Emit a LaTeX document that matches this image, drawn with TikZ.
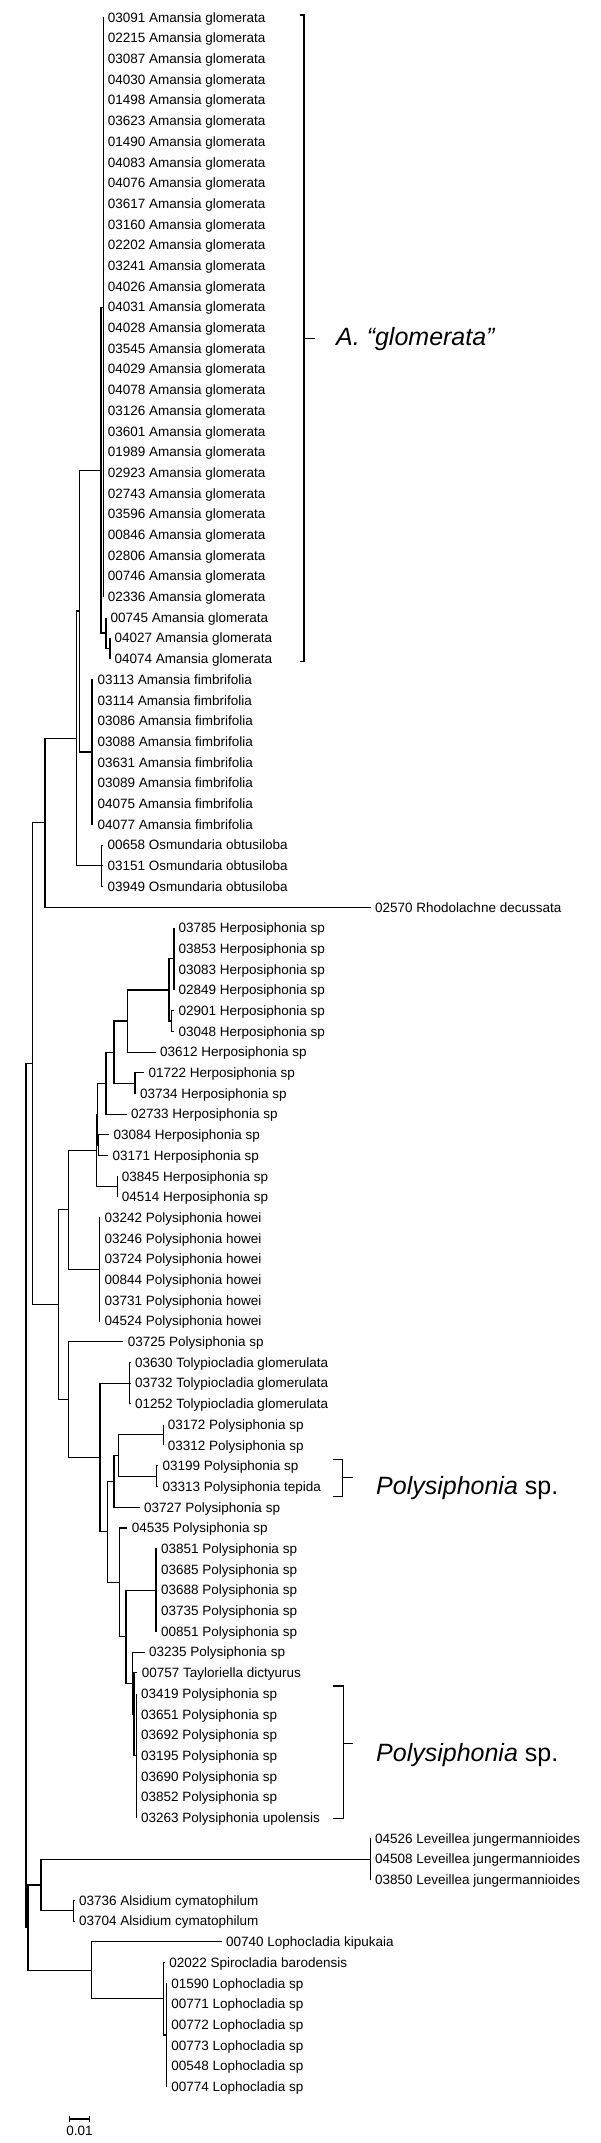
\documentclass[tikz,border=0pt]{standalone}
\usepackage{fontspec}
\setmainfont{Liberation Sans}
\usetikzlibrary{calc}
\newcommand\leaf[4]{%
  \pgfmathsetmacro\leafy{17.4+(#2-1)*20.693}%
  \coordinate (#1) at (#3,\leafy);%
  \node[lab] (#1l) at ({#3+4.3},{\leafy+4.8}) {#4};}
\newcommand\inode[5]{%
  \path let \p1=(#3), \p2=(#4) in coordinate (#1) at ({#2pt},{0.5*\y1+0.5*\y2});%
  \foreach \c in {#5} {\draw[br] (#1) |- (\c);}}
\newcommand\pnode[4]{%
  \path let \p1=(L#3), \p2=(L#4) in coordinate (#1) at ({#2pt},{0.5*\y1+0.5*\y2});%
  \foreach \i in {#3,...,#4} {\draw[br] (#1) |- (L\i);}}
\begin{document}
\begin{tikzpicture}[x=1pt,y=-1pt,
  br/.style={line width=1.1pt, black},
  brk/.style={line width=1.3pt, black},
  lab/.style={anchor=base west, inner sep=0pt, font=\fontsize{13.5}{16}\selectfont},
  big/.style={anchor=base west, inner sep=0pt, font=\fontsize{25}{30}\selectfont}]
\useasboundingbox (0,0) rectangle (600,2143);
\fill[white] (0,0) rectangle (600,2143);
% leaves
\foreach \i/\nm in {1/03091,2/02215,3/03087,4/04030,5/01498,6/03623,7/01490,8/04083,9/04076,10/03617,11/03160,12/02202,13/03241,14/04026,15/04031,16/04028,17/03545,18/04029,19/04078,20/03126,21/03601,22/01989,23/02923,24/02743,25/03596,26/00846,27/02806,28/00746,29/02336}
  {\leaf{L\i}{\i}{103.4}{\nm\ Amansia glomerata}}
\leaf{L30}{30}{106}{00745 Amansia glomerata}
\leaf{L31}{31}{110}{04027 Amansia glomerata}
\leaf{L32}{32}{110}{04074 Amansia glomerata}
\foreach \i/\nm in {33/03113,34/03114,35/03086,36/03088,37/03631,38/03089,39/04075,40/04077}
  {\leaf{L\i}{\i}{93}{\nm\ Amansia fimbrifolia}}
\foreach \i/\nm in {41/00658,42/03151,43/03949}
  {\leaf{L\i}{\i}{103}{\nm\ Osmundaria obtusiloba}}
\leaf{L44}{44}{370.7}{02570 Rhodolachne decussata}
\foreach \i/\nm in {45/03785,46/03853,47/03083,48/02849,49/02901,50/03048}
  {\leaf{L\i}{\i}{174}{\nm\ Herposiphonia sp}}
\leaf{L51}{51}{155.7}{03612 Herposiphonia sp}
\leaf{L52}{52}{144}{01722 Herposiphonia sp}
\leaf{L53}{53}{135.7}{03734 Herposiphonia sp}
\leaf{L54}{54}{126.7}{02733 Herposiphonia sp}
\leaf{L55}{55}{109}{03084 Herposiphonia sp}
\leaf{L56}{56}{108}{03171 Herposiphonia sp}
\leaf{L57}{57}{117.4}{03845 Herposiphonia sp}
\leaf{L58}{58}{117.4}{04514 Herposiphonia sp}
\foreach \i/\nm in {59/03242,60/03246,61/03724,62/00844,63/03731,64/04524}
  {\leaf{L\i}{\i}{100}{\nm\ Polysiphonia howei}}
\leaf{L65}{65}{123.4}{03725 Polysiphonia sp}
\foreach \i/\nm in {66/03630,67/03732,68/01252}
  {\leaf{L\i}{\i}{130.7}{\nm\ Tolypiocladia glomerulata}}
\leaf{L69}{69}{163.3}{03172 Polysiphonia sp}
\leaf{L70}{70}{163.3}{03312 Polysiphonia sp}
\leaf{L71}{71}{158}{03199 Polysiphonia sp}
\leaf{L72}{72}{158}{03313 Polysiphonia tepida}
\leaf{L73}{73}{139.7}{03727 Polysiphonia sp}
\leaf{L74}{74}{127.4}{04535 Polysiphonia sp}
\foreach \i/\nm in {75/03851,76/03685,77/03688,78/03735,79/00851}
  {\leaf{L\i}{\i}{156.7}{\nm\ Polysiphonia sp}}
\leaf{L80}{80}{144.7}{03235 Polysiphonia sp}
\leaf{L81}{81}{137.4}{00757 Tayloriella dictyurus}
\foreach \i/\nm in {82/03419,83/03651,84/03692,85/03195,86/03690,87/03852}
  {\leaf{L\i}{\i}{136.7}{\nm\ Polysiphonia sp}}
\leaf{L88}{88}{136.7}{03263 Polysiphonia upolensis}
\foreach \i/\nm in {89/04526,90/04508,91/03850}
  {\leaf{L\i}{\i}{370.7}{\nm\ Leveillea jungermannioides}}
\leaf{L92}{92}{74.7}{03736 Alsidium cymatophilum}
\leaf{L93}{93}{74.7}{03704 Alsidium cymatophilum}
\leaf{L94}{94}{221.7}{00740 Lophocladia kipukaia}
\leaf{L95}{95}{164.9}{02022 Spirocladia barodensis}
\foreach \i/\nm in {96/01590,97/00771,98/00772,99/00773,100/00548,101/00774}
  {\leaf{L\i}{\i}{166.9}{\nm\ Lophocladia sp}}
% internal nodes
\inode{AGc}{110}{L31}{L32}{L31,L32}
\inode{AGb}{106}{L30}{AGc}{L30,AGc}
\pnode{AGp}{103.4}{1}{29}
\inode{AGr}{101}{AGp}{AGb}{AGp,AGb}
\pnode{AF}{92}{33}{40}
\inode{N79}{79.3}{AGr}{AF}{AGr,AF}
\pnode{OO}{101.7}{41}{43}
\inode{N76}{76.5}{N79}{OO}{N79,OO}
\inode{N45}{45}{N76}{L44}{N76,L44}
\pnode{H174}{174}{45}{48}
\pnode{H171}{171.7}{49}{50}
\inode{H169}{169}{H174}{H171}{H174,H171}
\inode{H127}{127.7}{H169}{L51}{H169,L51}
\inode{H135}{135}{L52}{L53}{L52,L53}
\inode{H114}{114}{H127}{H135}{H127,H135}
\inode{H106}{106}{H114}{L54}{H114,L54}
\inode{HW}{98.8}{L55}{L56}{L55,L56}
\inode{HY}{97.5}{H106}{HW}{H106,HW}
\inode{H117}{117.3}{L57}{L58}{L57,L58}
\inode{HZ}{96.5}{HY}{H117}{HY,H117}
\pnode{PH}{99.3}{59}{64}
\inode{N68a}{68.3}{HZ}{PH}{HZ,PH}
\pnode{Tol}{129.3}{66}{68}
\inode{P163}{163.3}{L69}{L70}{L69,L70}
\inode{P157}{156.7}{L71}{L72}{L71,L72}
\inode{N118}{118.3}{P163}{P157}{P163,P157}
\inode{N114}{114}{N118}{L73}{N118,L73}
\pnode{C5}{156}{75}{79}
\pnode{N136}{136.7}{82}{88}
\inode{N134}{134}{L81}{N136}{L81,N136}
\inode{N132}{132.7}{L80}{N134}{L80,N134}
\inode{N126}{126}{C5}{N132}{C5,N132}
\inode{N119}{119.3}{L74}{N126}{L74,N126}
\inode{N107}{107.3}{N114}{N119}{N114,N119}
\inode{N100}{100}{Tol}{N107}{Tol,N107}
\inode{N68b}{68.3}{L65}{N100}{L65,N100}
\inode{N58}{58.3}{N68a}{N68b}{N68a,N68b}
\inode{N32}{32.7}{N45}{N58}{N45,N58}
\pnode{Lev}{370.7}{89}{91}
\inode{Als}{73.5}{L92}{L93}{L92,L93}
\inode{N41}{41}{Lev}{Als}{Lev,Als}
\pnode{Loph}{166.2}{96}{101}
\inode{N163}{163.5}{L95}{Loph}{L95,Loph}
\inode{N91}{91.2}{L94}{N163}{L94,N163}
\inode{R2}{28}{N41}{N91}{N41,N91}
\inode{R1}{26}{N32}{R2}{N32,R2}
% brackets
\draw[brk] (300,15) -- (304,15) -- (304,661.7) -- (300,661.7);
\draw[brk] (304,338.3) -- (315,338.3);
\node[big] (tA) at (336,345) {\itshape A. “glomerata”};
\draw[brk] (333.3,1459.3) -- (342.7,1459.3) -- (342.7,1496.7) -- (333.3,1496.7);
\draw[brk] (342.7,1477.3) -- (352.7,1477.3);
\node[big] (tP1) at (376,1494) {\textit{Polysiphonia} sp.};
\draw[brk] (333.3,1686) -- (343.3,1686) -- (343.3,1818.3) -- (333.3,1818.3);
\draw[brk] (343.3,1743.3) -- (353.3,1743.3);
\node[big] (tP2) at (376,1761) {\textit{Polysiphonia} sp.};
% scale bar
\coordinate (sb1) at (69.2,2119);
\coordinate (sb2) at (89.6,2119);
\draw[br] (sb1) -- (sb2);
\draw[br] ([yshift=3.3pt]sb1) -- ([yshift=-3.3pt]sb1);
\draw[br] ([yshift=3.3pt]sb2) -- ([yshift=-3.3pt]sb2);
\node[lab, anchor=base] (sbl) at (79.4,2135) {0.01};
\end{tikzpicture}
\end{document}
